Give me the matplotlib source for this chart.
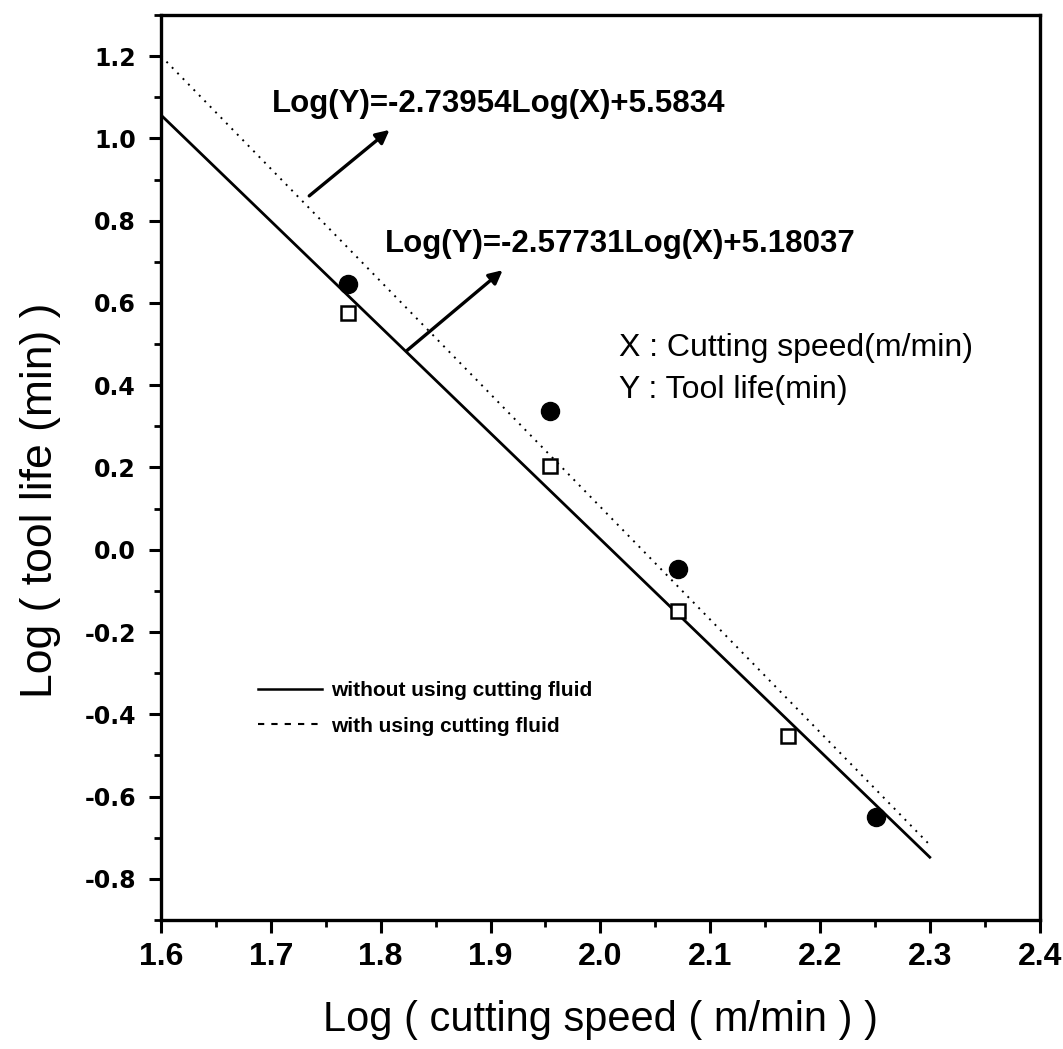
import numpy as np
import matplotlib.pyplot as plt
from matplotlib.lines import Line2D
from matplotlib.ticker import MultipleLocator, FuncFormatter

plt.rcParams['font.family'] = ['Liberation Sans', 'DejaVu Sans']

# measured points (log cutting speed, log tool life)
x_with = [1.770, 1.954, 2.071, 2.251]
y_with = [0.647, 0.337, -0.046, -0.650]
x_without = [1.770, 1.954, 2.071, 2.171]
y_without = [0.575, 0.204, -0.148, -0.453]

# fitted lines: Log(Y) = a*Log(X) + b
fit_with = (-2.73954, 5.5834)
fit_without = (-2.57731, 5.18037)
x_fit = np.array([1.6, 2.3])

fig = plt.figure(figsize=(10.63, 10.49), dpi=100)
ax = fig.add_axes([0.1515, 0.123, 0.8265, 0.8627])

ax.plot(x_fit, fit_without[0] * x_fit + fit_without[1], color='black', lw=2.0)
ax.plot(x_fit, fit_with[0] * x_fit + fit_with[1], color='black', lw=1.4,
        linestyle=(0, (1, 3)))

ax.plot(x_with, y_with, 'o', color='black', markersize=13, zorder=3)
ax.plot(x_without, y_without, 's', markerfacecolor='white',
        markeredgecolor='black', markeredgewidth=1.8, markersize=10, zorder=3)

# equations with arrows
ax.text(1.701, 1.084, 'Log(Y)=-2.73954Log(X)+5.5834', fontsize=22.5,
        fontweight='bold', va='center', ha='left')
ax.annotate('', xy=(1.81, 1.025), xytext=(1.733, 0.856),
            arrowprops=dict(arrowstyle='-|>', color='black', lw=2.4,
                            mutation_scale=20))
ax.text(1.804, 0.744, 'Log(Y)=-2.57731Log(X)+5.18037', fontsize=22.5,
        fontweight='bold', va='center', ha='left')
ax.annotate('', xy=(1.913, 0.684), xytext=(1.822, 0.48),
            arrowprops=dict(arrowstyle='-|>', color='black', lw=2.4,
                            mutation_scale=20))

ax.text(2.017, 0.49, 'X : Cutting speed(m/min)', fontsize=23, va='center')
ax.text(2.017, 0.388, 'Y : Tool life(min)', fontsize=23, va='center')

handles = [Line2D([], [], color='black', lw=1.8),
           Line2D([], [], color='black', lw=1.5, linestyle=(0, (3, 3.4)))]
labels = ['without using cutting fluid', 'with using cutting fluid']
ax.legend(handles, labels, loc='upper left', bbox_to_anchor=(0.110, 0.264),
          frameon=False, borderaxespad=0, borderpad=0, handlelength=3.1,
          handletextpad=0.4, labelspacing=0.8,
          prop={'size': 15, 'weight': 'bold'})

ax.set_xlim(1.6, 2.4)
ax.set_ylim(-0.9, 1.3)
ax.xaxis.set_major_locator(MultipleLocator(0.1))
ax.xaxis.set_minor_locator(MultipleLocator(0.05))
ax.yaxis.set_major_locator(MultipleLocator(0.2))
ax.yaxis.set_minor_locator(MultipleLocator(0.1))
fmt = FuncFormatter(lambda v, p: f'{v:.1f}')
ax.xaxis.set_major_formatter(fmt)
ax.yaxis.set_major_formatter(fmt)
ax.tick_params(which='major', direction='out', length=9, width=2.2,
               top=False, right=False)
ax.tick_params(which='minor', direction='out', length=5, width=2.0,
               top=False, right=False)
ax.tick_params(axis='x', which='major', pad=7)
ax.tick_params(axis='y', which='major', pad=9)
for lab in ax.get_xticklabels():
    lab.set_fontsize(23)
    lab.set_fontweight('bold')
for lab in ax.get_yticklabels():
    lab.set_family('DejaVu Sans')
    lab.set_fontsize(17)
    lab.set_fontweight('bold')
for s in ax.spines.values():
    s.set_linewidth(2.4)

ax.set_xlabel('Log ( cutting speed ( m/min ) )', fontsize=30, labelpad=20)
ax.set_ylabel('Log ( tool life (min) )', fontsize=32)
ax.yaxis.set_label_coords(-0.114, 0.464)

fig.savefig('out.png', dpi=100)
